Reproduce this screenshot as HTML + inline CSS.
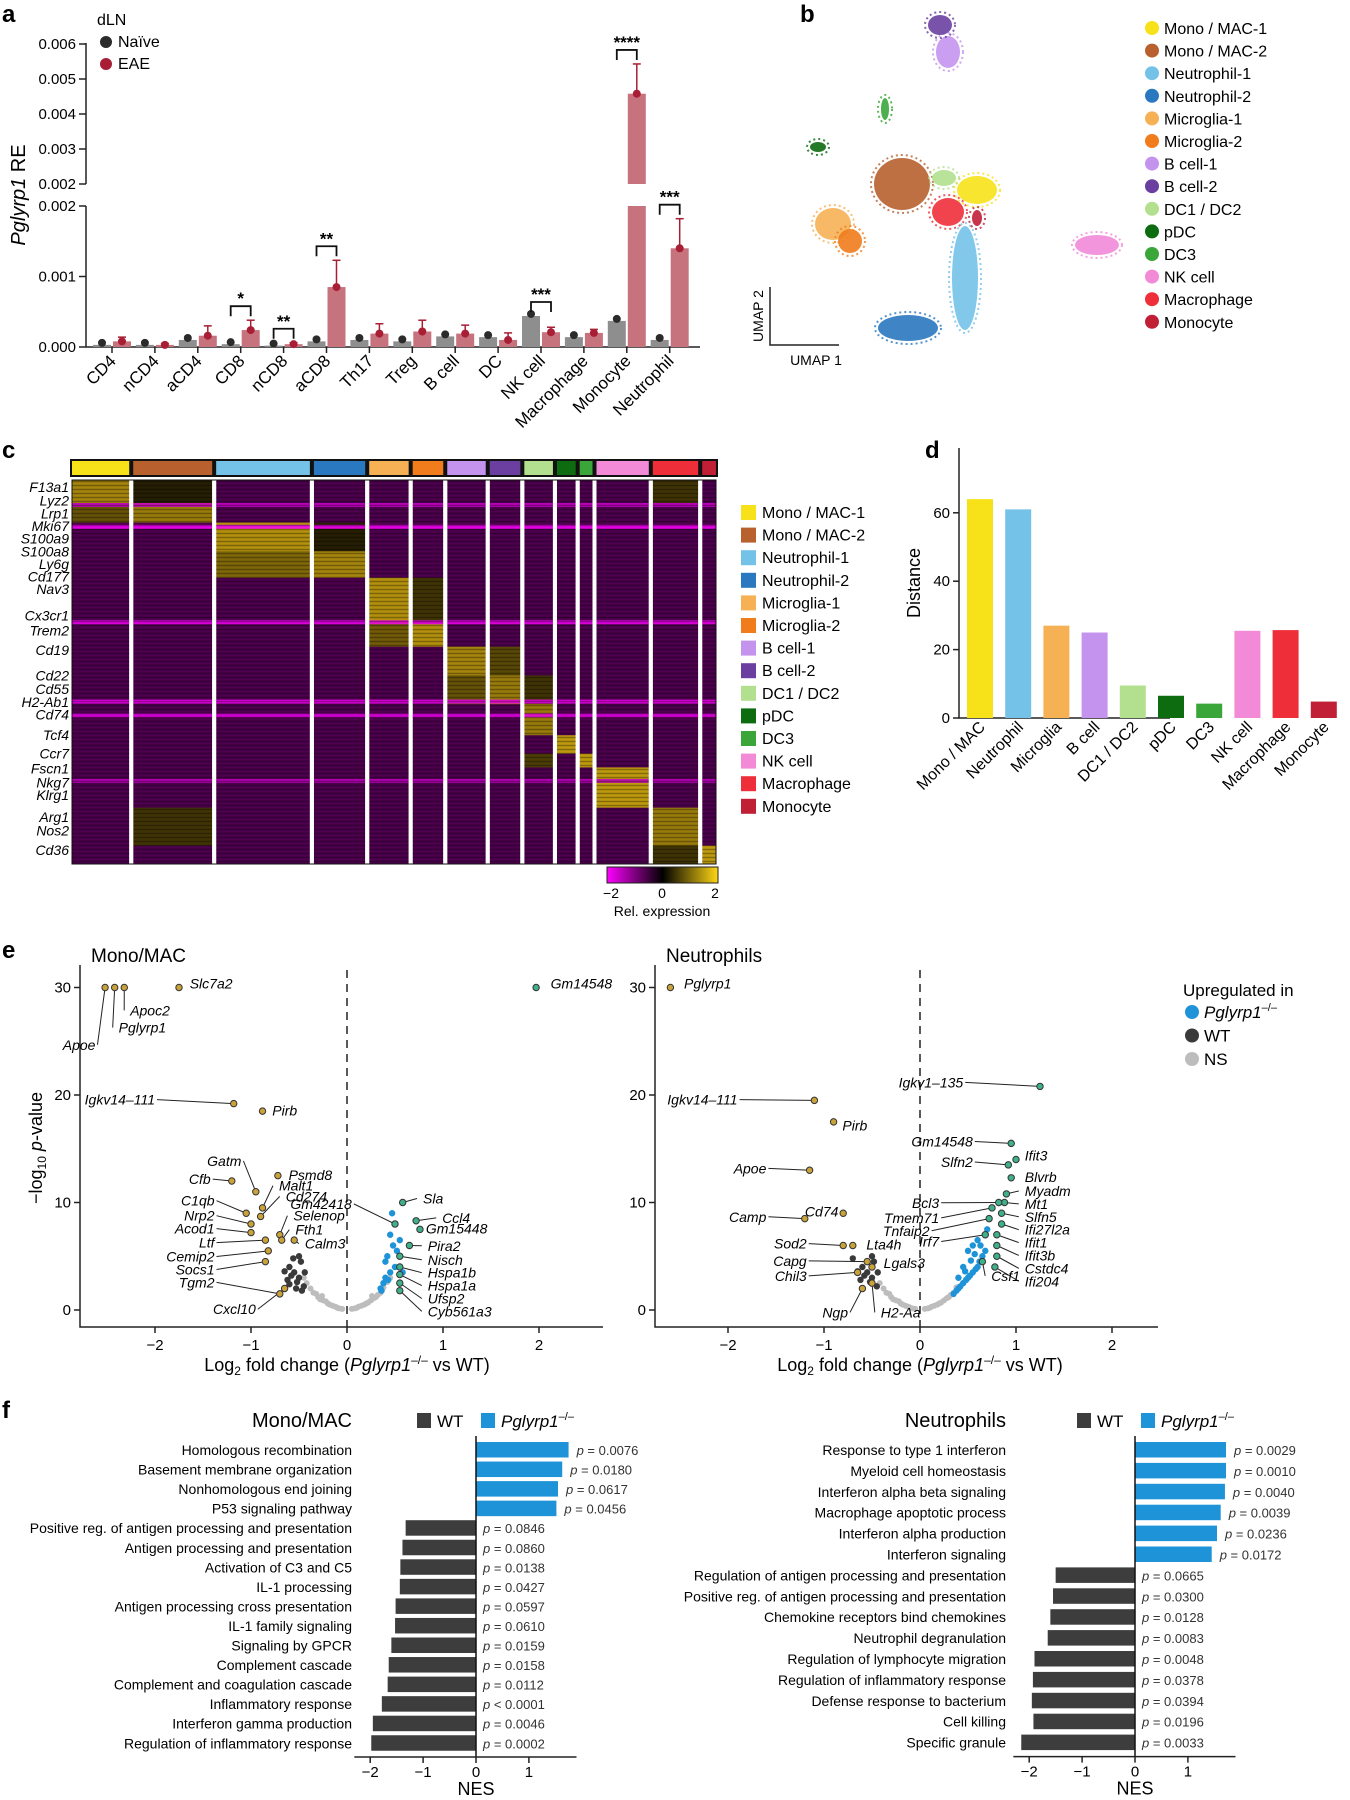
<!DOCTYPE html>
<html><head><meta charset="utf-8">
<style>
html,body{margin:0;padding:0;background:#fff;}
svg{display:block;font-family:"Liberation Sans",Arial,sans-serif;}
</style></head>
<body>
<svg id="fig" width="1350" height="1800" viewBox="0 0 1350 1800" xmlns="http://www.w3.org/2000/svg">
<text x="2" y="22" font-size="24" font-weight="bold">a</text>
<text x="800" y="22" font-size="24" font-weight="bold">b</text>
<text x="2" y="458" font-size="24" font-weight="bold">c</text>
<text x="925" y="458" font-size="24" font-weight="bold">d</text>
<text x="2" y="958" font-size="24" font-weight="bold">e</text>
<text x="2" y="1418" font-size="24" font-weight="bold">f</text>
</svg>
<script>
// ---------- Panel a data ----------
const aCategories = ["CD4","nCD4","aCD4","CD8","nCD8","aCD8","Th17","Treg","B cell","DC","NK cell","Macrophage","Monocyte","Neutrophil"];
const aNaive = [0.00003,0.00003,0.0001,0.00004,0.00002,0.00008,0.0001,0.00008,0.00015,0.00014,0.00044,0.00014,0.00037,0.0001];
const aEAE = [0.00008,0.00003,0.00016,0.00024,0.00004,0.00085,0.00019,0.00022,0.00019,0.0001,0.00021,0.0002,0.00458,0.0014];
const aEAEsd = [0.00006,0.00002,0.00014,0.00014,0.00002,0.00038,0.00014,0.00016,0.00012,0.0001,0.00007,0.00005,0.00085,0.00042];
const aSigIdx = [3,4,5,10,12,13];
const aSigLabel = ["*","**","**","***","****","***"];
const aTicksLow = [0,0.001,0.002];
const aTicksHigh = [0.002,0.003,0.004,0.005,0.006];
// ---------- Panel b data ----------
const bClusters = ["Mono / MAC-1","Mono / MAC-2","Neutrophil-1","Neutrophil-2","Microglia-1","Microglia-2","B cell-1","B cell-2","DC1 / DC2","pDC","DC3","NK cell","Macrophage","Monocyte"];
const bColors = ["#f7e21a","#b8612e","#74c2e8","#2a78c0","#f6b155","#f07c1c","#c493ee","#6a3fa0","#b3e08f","#0d6b10","#3aa63a","#f28ad8","#ee2f3a","#c01f35"];
const bCenterX = [977,902,965,908,833,850,948,940,944,818,885,1097,948,977];
const bCenterY = [190,184,278,328,224,241,52,25,178,147,109,245,212,218];
const bSpreadX = [20,28,13,30,18,12,12,12,12,8,4,22,16,5];
const bSpreadY = [14,26,52,13,16,12,16,10,8,5,11,10,14,8];
// ---------- Panel c data ----------
const cClusterSizes = [58,80,95,52,40,31,39,31,29,19,13,53,46,14];
const cBandSizes = [20,17,25,23,40,20,25,25,27,16,12,35,33,16];
const cBandHigh = [[0,1.3,1,0.3,12,0.5],[1,1.2,0,0.8],[2,1.4,3,0.3],[3,1.3,2,1.0],[4,1.4,5,0.5],[5,1.4,4,0.9],[6,1.3,7,0.7],[7,1.2,6,0.8,8,0.5],[8,1.2],[9,1.5],[10,1.5,8,0.6],[11,1.5],[12,1.2,1,0.5],[13,1.5,12,0.5]];
const cStripeRows = [20,39,122,191,203,260];
const cStripeVals = [-1.6,-2,-1.9,-1.9,-1.8,-1.5];
const cGenes = ["F13a1","Lyz2","Lrp1","Mki67","S100a9","S100a8","Ly6g","Cd177","Nav3","Cx3cr1","Trem2","Cd19","Cd22","Cd55","H2-Ab1","Cd74","Tcf4","Ccr7","Fscn1","Nkg7","Klrg1","Arg1","Nos2","Cd36"];
const cGeneRow = [6,18,29,40,51,62,73,84,95,118,131,148,170,182,193,204,222,238,251,263,274,293,305,322];
// ---------- Panel d data ----------
const dCategories = ["Mono / MAC","Neutrophil","Microglia","B cell","DC1 / DC2","pDC","DC3","NK cell","Macrophage","Monocyte"];
const dValues = [64,61,27,25,9.5,6.5,4.2,25.5,25.7,4.8];
const dColors = ["#f7e21a","#74c2e8","#f6b155","#c493ee","#b3e08f","#0d6b10","#3aa63a","#f28ad8","#ee2f3a","#c01f35"];
const dTicks = [0,20,40,60];
// ---------- Panel e data ----------
const eTicksX = [-2,-1,0,1,2];
const eTicksY = [0,10,20,30];
const eL_nsX = [-0.05,0.05,-0.1,0.1,-0.15,0.15,-0.2,0.2,-0.25,0.25,-0.3,0.3,-0.35,0.35,-0.12,0.12,-0.22,0.22,-0.28,0.28,-0.38,0.38,-0.32,0.32,-0.18,0.18,-0.42,0.42,-0.08,0.08,-0.45,0.45,-0.26,0.26];
const eL_nsY = [0.1,0.1,0.2,0.2,0.4,0.4,0.6,0.6,0.9,0.9,1.2,1.2,1.6,1.6,0.3,0.3,0.8,0.7,1.0,1.1,2.0,2.1,1.5,1.4,0.5,0.5,2.5,2.6,0.15,0.15,3.0,3.0,1.3,1.3];
const eL_wtX = [-0.45,-0.5,-0.55,-0.6,-0.48,-0.52,-0.58,-0.62,-0.65,-0.44,-0.5,-0.56,-0.6,-0.47,-0.53];
const eL_wtY = [2.2,3.0,3.5,4.0,4.5,2.6,3.2,2.8,3.6,3.5,5.0,4.8,2.4,1.8,2.0];
const eL_upX = [0.35,0.4,0.45,0.5,0.38,0.42,0.48,0.52,0.55,0.45,0.4,0.5,0.47,0.43,0.58,0.36];
const eL_upY = [2.0,3.0,3.5,4.0,2.5,5.0,6.0,5.5,6.5,7.0,4.5,8.0,9.0,2.8,3.5,1.8];
const eL_labX = [-2.52,-2.42,-2.32,-1.75,-1.18,-0.88,-0.95,-1.2,-0.72,-0.9,-1.05,-0.88,-1.0,-1.0,-0.7,-0.85,-0.68,-0.82,-0.55,-0.85,-0.65,-0.7,1.97,0.5,0.58,0.72,0.76,0.65,0.55,0.55,0.55,0.55,0.55];
const eL_labY = [30,30,30,30,19.2,18.5,11,12,12.5,8.7,9,9.5,8,7.2,7,6.5,6.5,5.5,6.5,4.5,2.0,1.5,30,8,10,8.3,7.5,6,5,4,3.3,2.5,1.8];
const eL_lab = ["Apoe","Pglyrp1","Apoc2","Slc7a2","Igkv14–111","Pirb","Gatm","Cfb","Psmd8","Cd274","C1qb","Malt1","Nrp2","Acod1","Selenop","Ltf","Fth1","Cemip2","Calm3","Socs1","Cxcl10","Tgm2","Gm14548","Gm42418","Sla","Ccl4","Gm15448","Pira2","Nisch","Hspa1b","Hspa1a","Ufsp2","Cyb561a3"];
const eL_lx = [-2.62,-2.42,-2.3,-1.68,-2.0,-0.82,-1.1,-1.42,-0.65,-0.68,-1.38,-0.75,-1.38,-1.38,-0.6,-1.38,-0.58,-1.38,-0.48,-1.38,-0.95,-1.38,2.08,0.05,0.75,0.95,0.78,0.8,0.8,0.8,0.8,0.8,0.8];
const eL_ly = [24.3,25.9,27.5,30,19.2,18.2,13.5,11.8,12.2,10.2,9.8,11.2,8.4,7.2,8.4,5.9,7.1,4.6,5.8,3.4,-0.3,2.2,30,9.5,10,8.2,7.2,5.6,4.3,3.1,1.9,0.7,-0.5];
const eR_nsX = [-0.05,0.05,-0.1,0.1,-0.15,0.15,-0.2,0.2,-0.25,0.25,-0.3,0.3,-0.35,0.35,-0.12,0.12,-0.22,0.22,-0.28,0.28,-0.38,0.38,-0.32,0.32,-0.18,0.18,-0.42,0.08,-0.08];
const eR_nsY = [0.1,0.1,0.2,0.2,0.4,0.4,0.6,0.6,0.9,0.9,1.2,1.2,1.6,1.6,0.3,0.3,0.8,0.7,1.0,1.1,2.0,2.1,1.5,1.4,0.5,0.5,2.5,0.15,0.15];
const eR_wtX = [-0.45,-0.5,-0.55,-0.6,-0.48,-0.52,-0.58,-0.62,-0.65,-0.44,-0.5,-0.7];
const eR_wtY = [2.2,3.0,3.5,4.0,4.5,2.6,3.2,2.8,3.6,3.5,5.0,4.8];
const eR_upX = [0.35,0.4,0.45,0.5,0.55,0.6,0.65,0.38,0.42,0.48,0.52,0.58,0.62,0.45,0.5,0.55,0.6,0.68,0.7,0.4,0.47,0.53,0.57,0.63];
const eR_upY = [1.5,2.0,2.5,3.0,3.5,4.0,5.0,1.8,2.2,2.8,3.2,3.8,4.5,4.0,5.5,6.0,6.5,5.5,7.5,3.0,3.6,4.6,5.2,6.0];
const eR_labX = [-2.6,-1.1,-0.9,-1.15,-1.2,-0.8,-0.8,-0.7,-0.55,-0.65,-0.5,-0.6,-0.5,1.25,0.95,1.0,0.92,0.95,0.9,0.88,0.82,0.85,0.75,0.85,0.72,0.8,0.68,0.8,0.8,0.78,0.65];
const eR_labY = [30,19.5,17.5,13,8.5,9,6,6,4.5,3.5,4,2,2.5,20.8,15.5,14,13.5,12.3,10.8,10,10,9,9.5,8,8.5,7,7,6,5,4,4.5];
const eR_lab = ["Pglyrp1","Igkv14–111","Pirb","Apoe","Camp","Cd74","Sod2","Lta4h","Capg","Chil3","Lgals3","Ngp","H2-Aa","Igkv1–135","Gm14548","Ifit3","Slfn2","Blvrb","Myadm","Mt1","Bcl3","Slfn5","Tmem71","Ifi27l2a","Tnfaip2","Ifit1","Irf7","Ifit3b","Cstdc4","Ifi204","Csf1"];
const eR_lx = [-2.5,-1.9,-0.85,-1.6,-1.6,-0.85,-1.18,-0.6,-1.18,-1.18,-0.42,-0.75,-0.45,0.45,0.55,1.05,0.55,1.05,1.05,1.05,0.2,1.05,0.2,1.05,0.1,1.05,0.2,1.05,1.05,1.05,0.7];
const eR_ly = [30,19.2,16.8,12.8,8.3,8.8,5.8,5.7,4.2,2.8,4.0,-0.6,-0.6,20.8,15.3,14.0,13.4,12.0,10.7,9.5,9.6,8.3,8.2,7.1,7.0,5.9,6.0,4.7,3.5,2.3,2.8];
// ---------- Panel f data ----------
const fL_terms = ["Homologous recombination","Basement membrane organization","Nonhomologous end joining","P53 signaling pathway","Positive reg. of antigen processing and presentation","Antigen processing and presentation","Activation of C3 and C5","IL-1 processing","Antigen processing cross presentation","IL-1 family signaling","Signaling by GPCR","Complement cascade","Complement and coagulation cascade","Inflammatory response","Interferon gamma production","Regulation of inflammatory response"];
const fL_nes = [1.75,1.63,1.55,1.52,-1.33,-1.39,-1.43,-1.44,-1.52,-1.53,-1.6,-1.65,-1.67,-1.78,-1.95,-1.98];
const fL_p = ["p = 0.0076","p = 0.0180","p = 0.0617","p = 0.0456","p = 0.0846","p = 0.0860","p = 0.0138","p = 0.0427","p = 0.0597","p = 0.0610","p = 0.0159","p = 0.0158","p = 0.0112","p < 0.0001","p = 0.0046","p = 0.0002"];
const fR_terms = ["Response to type 1 interferon","Myeloid cell homeostasis","Interferon alpha beta signaling","Macrophage apoptotic process","Interferon alpha production","Interferon signaling","Regulation of antigen processing and presentation","Positive reg. of antigen processing and presentation","Chemokine receptors bind chemokines","Neutrophil degranulation","Regulation of lymphocyte migration","Regulation of inflammatory response","Defense response to bacterium","Cell killing","Specific granule"];
const fR_nes = [1.72,1.72,1.7,1.62,1.55,1.45,-1.5,-1.55,-1.6,-1.65,-1.9,-1.93,-1.95,-1.92,-2.15];
const fR_p = ["p = 0.0029","p = 0.0010","p = 0.0040","p = 0.0039","p = 0.0236","p = 0.0172","p = 0.0665","p = 0.0300","p = 0.0128","p = 0.0083","p = 0.0048","p = 0.0378","p = 0.0394","p = 0.0196","p = 0.0033"];
const fTicks = [-2,-1,0,1];

const svg = document.getElementById('fig');
const NS = 'http://www.w3.org/2000/svg';
function mk(tag, attrs, parent){
  const e = document.createElementNS(NS, tag);
  for (const k in attrs) e.setAttribute(k, attrs[k]);
  (parent||svg).appendChild(e);
  return e;
}
function txt(x,y,s,size,anchor,extra,parent){
  const e = mk('text',Object.assign({x:x,y:y,'font-size':size,'text-anchor':anchor||'start'},extra||{}),parent);
  e.textContent = s;
  return e;
}
let el;

// ================= Panel a =================
const aX0 = 112, aStep = 42.9, aAxisX = 86;
function aY(v){ return v <= 0.002 ? 347 - v*70500 : 184 - (v-0.002)*35000; }
function aCx(i){ return aX0 + i*aStep; }
el = mk('line',{x1:aAxisX,y1:206,x2:aAxisX,y2:347,stroke:'#222','stroke-width':1.5});


el = mk('line',{x1:aAxisX,y1:43,x2:aAxisX,y2:184,stroke:'#222','stroke-width':1.5});


el = mk('line',{x1:aAxisX,y1:347,x2:700,y2:347,stroke:'#222','stroke-width':1.5});


aTicksLow.forEach(function(t){
  const y = 347 - t*70500;
  el = mk('line',{x1:aAxisX-7,y1:y,x2:aAxisX,y2:y,stroke:'#222','stroke-width':1.5});
  
  
  el = txt(aAxisX-10,y+5,t.toFixed(3),15,'end');
  
  
});
aTicksHigh.forEach(function(t){
  const y = aY(t+1e-12);
  el = mk('line',{x1:aAxisX-7,y1:y,x2:aAxisX,y2:y,stroke:'#222','stroke-width':1.5});
  
  
  el = txt(aAxisX-10,y+5,t.toFixed(3),15,'end');
  
  
});
el = txt(0,0,'',20,'middle',{transform:'translate(25,195) rotate(-90)'});
el.innerHTML = '<tspan font-style="italic">Pglyrp1</tspan> RE';


el = txt(97,25,'dLN',16,'start');


el = mk('circle',{cx:106,cy:42,r:6,fill:'#2b2b2b'});


el = txt(118,47,'Naïve',16,'start');


el = mk('circle',{cx:106,cy:64,r:6,fill:'#a81e34'});


el = txt(118,69,'EAE',16,'start');


function aBar(cx,v,color,name){
  if (v > 0.002){
    el = mk('rect',{x:cx-9,y:206,width:18,height:141,fill:color});
    
    
    el = mk('rect',{x:cx-9,y:aY(v),width:18,height:184-aY(v),fill:color});
    
    
  } else {
    el = mk('rect',{x:cx-9,y:aY(v),width:18,height:347-aY(v),fill:color});
    
    
  }
}
aCategories.forEach(function(c,i){
  const cx = aCx(i);
  aBar(cx-10,aNaive[i],'#8e8e8e','a-bar-naive');
  aBar(cx+10,aEAE[i],'#c6737e','a-bar-eae');
  const top = aEAE[i]+aEAEsd[i];
  el = mk('line',{x1:cx+10,y1:aY(aEAE[i]),x2:cx+10,y2:aY(top),stroke:'#a81e34','stroke-width':1.5});
  
  
  el = mk('line',{x1:cx+6,y1:aY(top),x2:cx+14,y2:aY(top),stroke:'#a81e34','stroke-width':1.5});
  
  
  el = mk('circle',{cx:cx-10,cy:aY(aNaive[i])-2,r:4,fill:'#2b2b2b'});
  
  
  el = mk('circle',{cx:cx+10,cy:aY(aEAE[i]),r:4,fill:'#a81e34'});
  
  
  el = mk('line',{x1:cx,y1:347,x2:cx,y2:353,stroke:'#222','stroke-width':1.5});
  
  
  el = txt(0,0,c,17,'end',{transform:'translate('+(cx+5)+',362) rotate(-45)'});
  
  
});
aSigIdx.forEach(function(idx,k){
  const cx = aCx(idx);
  const top = Math.max(aEAE[idx]+aEAEsd[idx], aNaive[idx]);
  const yb = aY(top) - 14;
  el = mk('path',{d:'M'+(cx-10)+','+(yb+10)+' V'+yb+' H'+(cx+10)+' V'+(yb+10),fill:'none',stroke:'#111','stroke-width':1.8});
  
  
  el = txt(cx,yb-2,aSigLabel[k],17,'middle',{'font-weight':'bold'});
  
  
});

// ================= Panel b =================
bClusters.forEach(function(c,i){
  el = mk('ellipse',{cx:bCenterX[i],cy:bCenterY[i],rx:bSpreadX[i],ry:bSpreadY[i],fill:bColors[i],opacity:0.9});
  
  
  el = mk('ellipse',{cx:bCenterX[i],cy:bCenterY[i],rx:bSpreadX[i]+3,ry:bSpreadY[i]+3,fill:'none',stroke:bColors[i],'stroke-width':2,'stroke-dasharray':'2 3',opacity:0.8});
  
  
  el = mk('circle',{cx:1152,cy:28+22.6*i,r:7,fill:bColors[i]});
  
  
  el = txt(1164,34+22.6*i,c,16,'start');
  
  
});
el = mk('path',{d:'M770,287 V345 H839',fill:'none',stroke:'#222','stroke-width':1.5});


el = txt(0,0,'UMAP 2',14,'middle',{transform:'translate(763,316) rotate(-90)'});


el = txt(816,365,'UMAP 1',14,'middle');



// ================= Panel c =================
function heatColor(v){
  v = Math.max(-2,Math.min(2,v));
  if (v<0){ const t=-v/2; return 'rgb('+Math.round(255*t)+',0,'+Math.round(255*t)+')'; }
  const t=v/2; return 'rgb('+Math.round(255*t)+','+Math.round(205*t)+','+Math.round(20*t)+')';
}
const cX0=72, cX1=716, cGap=4, cY0=480, cY1=864;
const cTotal = cClusterSizes.reduce(function(a,b){return a+b;},0);
const cScale = (cX1-cX0-cGap*(cClusterSizes.length-1))/cTotal;
const cBandTotal = cBandSizes.reduce(function(a,b){return a+b;},0);
const cRowScale = (cY1-cY0)/cBandTotal;
el = mk('rect',{x:cX0-2,y:459,width:cX1-cX0+4,height:18,fill:'#111'});


let cx = cX0;
const cColStart = [];
cClusterSizes.forEach(function(s,j){
  const w = s*cScale;
  cColStart.push([cx,w]);
  el = mk('rect',{x:cx,y:461,width:w,height:14,fill:bColors[j]});
  
  
  let ry = cY0;
  cBandSizes.forEach(function(bs,b){
    let v = -0.6;
    const hi = cBandHigh[b];
    for (let k=0;k<hi.length;k+=2){ if (hi[k]===j) v = hi[k+1]; }
    el = mk('rect',{x:cx,y:ry,width:w,height:bs*cRowScale+0.5,fill:heatColor(v)});
    
    
    ry += bs*cRowScale;
  });
  cx += w + cGap;
});
cStripeRows.forEach(function(r,k){
  cColStart.forEach(function(cw){
    el = mk('rect',{x:cw[0],y:cY0+r*cRowScale,width:cw[1],height:4,fill:heatColor(cStripeVals[k]),opacity:0.85});
    
    
  });
});
for (let k=0;k<96;k++){
  el = mk('line',{x1:cX0,y1:cY0+k*4+1.5,x2:cX1,y2:cY0+k*4+1.5,stroke:'#000','stroke-width':1.5,opacity:0.3});
  
  
}
cColStart.forEach(function(cw,j){
  if (j>0){
    el = mk('rect',{x:cw[0]-cGap,y:cY0,width:cGap,height:cY1-cY0,fill:'#fff'});
    
    
  }
});
el = mk('rect',{x:cX0,y:cY0,width:cX1-cX0,height:cY1-cY0,fill:'none',stroke:'#111','stroke-width':1});


cGenes.forEach(function(g,i){
  el = txt(69,cY0+cGeneRow[i]*cRowScale+5,g,14,'end',{'font-style':'italic'});
  
  
});
bClusters.forEach(function(c,i){
  el = mk('rect',{x:741,y:505+22.6*i,width:15,height:15,fill:bColors[i]});
  
  
  el = txt(762,518+22.6*i,c,16,'start');
  
  
});
const cGrad = mk('linearGradient',{id:'hg',x1:0,x2:1,y1:0,y2:0},mk('defs',{}));
[[0,'#ff00ff'],[0.5,'#000'],[1,'#ffd714']].forEach(function(s){ mk('stop',{offset:s[0],'stop-color':s[1]},cGrad); });
el = mk('rect',{x:607,y:867,width:111,height:16,fill:'url(#hg)',stroke:'#222'});


[['−2',611],['0',662],['2',715]].forEach(function(t){
  el = txt(t[1],898,t[0],14,'middle');
  
  
});
el = txt(662,916,'Rel. expression',14,'middle');



// ================= Panel d =================
function dY(v){ return 718 - v*3.42; }
el = mk('path',{d:'M959,448 V718 H1170',fill:'none',stroke:'#222','stroke-width':1.5});


dTicks.forEach(function(t){
  el = mk('line',{x1:953,y1:dY(t),x2:959,y2:dY(t),stroke:'#222','stroke-width':1.5});
  
  
  el = txt(950,dY(t)+5,String(t),15,'end');
  
  
});
el = txt(0,0,'Distance',18,'middle',{transform:'translate(920,583) rotate(-90)'});


dCategories.forEach(function(c,i){
  const x = 980 + i*38.2;
  el = mk('rect',{x:x-13,y:dY(dValues[i]),width:26,height:718-dY(dValues[i]),fill:dColors[i]});
  
  
  el = txt(0,0,c,16,'end',{transform:'translate('+(x+6)+',728) rotate(-45)'});
  
  
});

// ================= Panel e =================
function volcano(ox, x0, xr, title, nsX, nsY, wtX, wtY, upX, upY, labX, labY, lab, lx, ly, prefix){
  const sx = function(v){ return x0 + v*96; };
  const sy = function(v){ return 1310 - v*10.75; };
  el = mk('path',{d:'M'+ox+',965 V1327 H'+xr,fill:'none',stroke:'#222','stroke-width':1.5});
  
  
  el = mk('line',{x1:x0,y1:970,x2:x0,y2:1327,stroke:'#222','stroke-width':1.5,'stroke-dasharray':'8 6'});
  
  
  eTicksY.forEach(function(t){
    el = mk('line',{x1:ox-6,y1:sy(t),x2:ox,y2:sy(t),stroke:'#222','stroke-width':1.5});
    
    
    el = txt(ox-9,sy(t)+5,String(t),15,'end');
    
    
  });
  eTicksX.forEach(function(t){
    el = mk('line',{x1:sx(t),y1:1327,x2:sx(t),y2:1333,stroke:'#222','stroke-width':1.5});
    
    
    el = txt(sx(t),1350,t<0?'−'+Math.abs(t):String(t),15,'middle');
    
    
  });
  el = txt(x0,1371,'',18,'middle');
  el.innerHTML = 'Log<tspan font-size="12" dy="4">2</tspan><tspan dy="-4"> fold change (</tspan><tspan font-style="italic">Pglyrp1</tspan><tspan font-size="12" dy="-7">–/–</tspan><tspan dy="7"> vs WT)</tspan>';
  
  
  el = txt(ox+11,962,title,19,'start');
  
  
  nsX.forEach(function(v,i){
    el = mk('circle',{cx:sx(v),cy:sy(nsY[i]),r:3,fill:'#bdbdbd'});
    
    
  });
  wtX.forEach(function(v,i){
    el = mk('circle',{cx:sx(v),cy:sy(wtY[i]),r:3.2,fill:'#3a3a3a'});
    
    
  });
  upX.forEach(function(v,i){
    el = mk('circle',{cx:sx(v),cy:sy(upY[i]),r:3.2,fill:'#1f93d8'});
    
    
  });
  labX.forEach(function(v,i){
    const px=sx(v), py=sy(labY[i]), tx=sx(lx[i]), ty=sy(ly[i]);
    const left = lx[i] < v;
    if (Math.abs(tx-px)+Math.abs(ty-py) > 14){
      el = mk('line',{x1:px,y1:py,x2:left?tx+2:tx-2,y2:ty-4,stroke:'#222','stroke-width':1});
      
      
    }
    el = mk('circle',{cx:px,cy:py,r:3.2,fill:v<0?'#c9a33a':'#3fb08a',stroke:'#333','stroke-width':1});
    
    
    el = txt(left?tx:tx+4,ty+1,lab[i],14,left?'end':'start',{'font-style':'italic'});
    
    
  });
}
volcano(80,347,603,'Mono/MAC',eL_nsX,eL_nsY,eL_wtX,eL_wtY,eL_upX,eL_upY,eL_labX,eL_labY,eL_lab,eL_lx,eL_ly,'e-left');
volcano(655,920,1158,'Neutrophils',eR_nsX,eR_nsY,eR_wtX,eR_wtY,eR_upX,eR_upY,eR_labX,eR_labY,eR_lab,eR_lx,eR_ly,'e-right');
el = txt(0,0,'',18,'middle',{transform:'translate(42,1148) rotate(-90)'});
el.innerHTML = '−log<tspan font-size="12" dy="4">10</tspan><tspan dy="-4"> </tspan><tspan font-style="italic">p</tspan>-value';


el = txt(1183,996,'Upregulated in',17,'start');


[['#1f93d8','Pglyrp1'],['#3a3a3a','WT'],['#bdbdbd','NS']].forEach(function(it,i){
  el = mk('circle',{cx:1192,cy:1012+23.5*i,r:7,fill:it[0]});
  
  
  el = txt(1204,1018+23.5*i,'',17,'start');
  if (i===0) el.innerHTML = '<tspan font-style="italic">Pglyrp1</tspan><tspan font-size="11" dy="-7">–/–</tspan>';
  else el.textContent = it[1];
  
  
});

// ================= Panel f =================
function gsea(z, labelX, y0, step, terms, nes, pv, title, prefix, legX){
  const sx = function(v){ return z + v*52.9; };
  const bottom = Math.min(y0 + step*(terms.length-1) + 14, 1757);
  terms.forEach(function(t,i){
    const y = y0 + step*i;
    const v = nes[i];
    el = mk('rect',{x:Math.min(sx(0),sx(v)),y:y-8,width:Math.abs(v)*52.9,height:15.5,fill:v>0?'#1f93d8':'#3d3d3d'});
    
    
    el = txt(labelX,y+5,t,14,'end');
    
    
    const px = v>0 ? sx(v)+8 : z+7;
    el = txt(px,y+5,'',13,'start',{fill:'#333'});
    el.innerHTML = '<tspan font-style="italic">p</tspan>'+pv[i].slice(1);
    
    
  });
  el = mk('line',{x1:z,y1:y0-14,x2:z,y2:bottom,stroke:'#111','stroke-width':1.5});
  
  
  el = mk('line',{x1:sx(-2.3),y1:bottom,x2:sx(1.9),y2:bottom,stroke:'#222','stroke-width':1.5});
  
  
  fTicks.forEach(function(t){
    el = mk('line',{x1:sx(t),y1:bottom,x2:sx(t),y2:bottom+6,stroke:'#222','stroke-width':1.5});
    
    
    el = txt(sx(t),bottom+20,t<0?'−'+Math.abs(t):String(t),15,'middle');
    
    
  });
  el = txt(z,bottom+38,'NES',18,'middle');
  
  
  el = txt(labelX,1427,title,20,'end');
  
  
  el = mk('rect',{x:legX,y:1413,width:14,height:15,fill:'#3d3d3d'});
  
  
  el = txt(legX+20,1427,'WT',17,'start');
  
  
  el = mk('rect',{x:legX+64,y:1413,width:14,height:15,fill:'#1f93d8'});
  
  
  el = txt(legX+84,1427,'',17,'start');
  el.innerHTML = '<tspan font-style="italic">Pglyrp1</tspan><tspan font-size="11" dy="-7">–/–</tspan>';
  
  
}
gsea(476,352,1450,19.55,fL_terms,fL_nes,fL_p,'Mono/MAC','f-left',417);
gsea(1135,1006,1450,20.9,fR_terms,fR_nes,fR_p,'Neutrophils','f-right',1077);
</script>
</body></html>
